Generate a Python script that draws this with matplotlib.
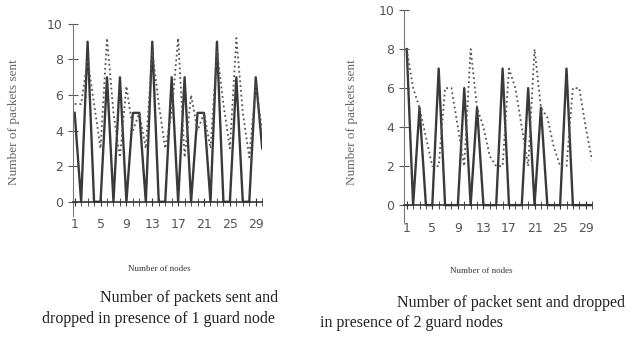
import matplotlib.pyplot as plt
import numpy as np

nodes = np.arange(1, 31)

# 1 guard node
sent_1 = [5, 0, 9, 0, 0, 7, 0, 7, 0, 5, 5, 0, 9, 0, 0, 7, 0, 7, 0, 5,
          5, 0, 9, 0, 0, 7, 0, 0, 7, 3]
dropped_1 = [5.5, 5.5, 8, 5.5, 3, 9.2, 5, 2.5, 6.5, 4, 5, 3, 8.5, 5.5, 3, 5, 9.2, 2.5, 6, 4,
             5, 3, 8.5, 5.5, 3, 9.2, 5, 2.5, 6.5, 4]

# 2 guard nodes
sent_2 = [8, 0, 5, 0, 0, 7, 0, 0, 0, 6, 0, 5, 0, 0, 0, 7, 0, 0, 0, 6,
          0, 5, 0, 0, 0, 7, 0, 0, 0, 0]
dropped_2 = [8, 6, 5, 3.5, 2, 2, 6, 6, 4, 2, 8, 5, 4, 2.5, 2, 2, 7, 6, 4, 2,
             8, 5, 4.5, 3, 2, 2, 6, 6, 4, 2.3]

xticks = [1, 5, 9, 13, 17, 21, 25, 29]

fig = plt.figure(figsize=(6.38, 3.37), dpi=100)

ax1 = fig.add_axes([0.114, 0.359, 0.297, 0.570])
ax2 = fig.add_axes([0.633, 0.341, 0.295, 0.629])

def style(ax, sent, dropped, xlim, ylim, label_xy):
    ax.plot(nodes, sent, color='#3a3a3a', lw=1.7, solid_joinstyle='round')
    ax.plot(nodes, dropped, color='#555555', lw=1.3, ls=':')
    ax.set_xlim(*xlim)
    ax.set_ylim(*ylim)
    for s in ['top', 'right']:
        ax.spines[s].set_visible(False)
    ax.spines['bottom'].set_position(('data', 0))
    ax.spines['bottom'].set_color('#333333')
    ax.spines['bottom'].set_linewidth(1.2)
    ax.spines['left'].set_color('#777777')
    ax.set_xticks(xticks)
    ax.set_xticks(nodes, minor=True)
    ax.set_yticks([0, 2, 4, 6, 8, 10])
    ax.tick_params(axis='x', which='both', direction='inout', length=6, pad=9,
                   labelsize=9, labelcolor='#555555', color='#333333')
    ax.tick_params(axis='y', direction='inout', length=7, labelsize=9,
                   labelcolor='#555555', color='#555555')
    ax.set_ylabel('Number of packets sent', fontsize=9.5, family='Liberation Serif',
                  color='#666666')
    ax.yaxis.set_label_coords(*label_xy)

style(ax1, sent_1, dropped_1, (0.7, 29.9), (-0.8, 10), (-0.28, 0.49))
style(ax2, sent_2, dropped_2, (0.55, 29.8), (-0.87, 10), (-0.245, 0.47))

fig.text(0.250, 0.197, 'Number of nodes', fontsize=6.4, family='Liberation Serif',
         ha='center', color='#333333')
fig.text(0.755, 0.190, 'Number of nodes', fontsize=6.4, family='Liberation Serif',
         ha='center', color='#333333')

cap = dict(fontsize=11.5, family='Liberation Serif', color='#222222')
fig.text(0.296, 0.103, 'Number of packets sent and', ha='center', **cap)
fig.text(0.066, 0.043, 'dropped in presence of 1 guard node', ha='left', **cap)
fig.text(0.622, 0.089, 'Number of packet sent and dropped', ha='left', **cap)
fig.text(0.502, 0.029, 'in presence of 2 guard nodes', ha='left', **cap)

fig.savefig('out.png', dpi=100)
